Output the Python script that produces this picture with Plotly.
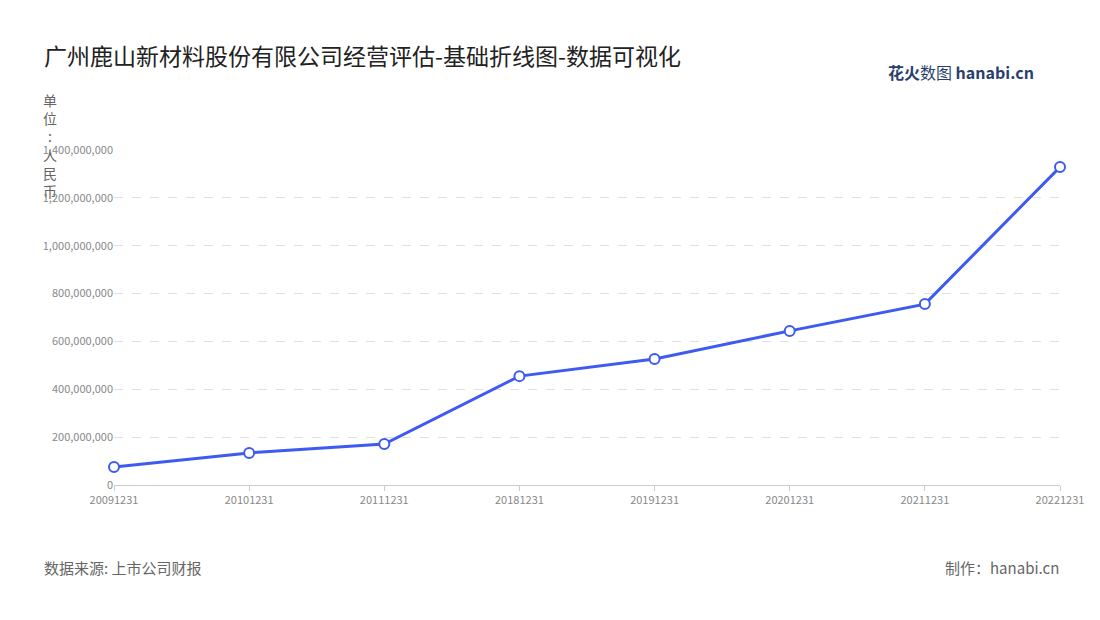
import plotly.graph_objects as go

categories = ["20091231","20101231","20111231","20181231","20191231","20201231","20211231","20221231"]
values = [75000000,134000000,171000000,455000000,527000000,644000000,756000000,1329000000]
y_ticks = [0,200000000,400000000,600000000,800000000,1000000000,1200000000,1400000000]
y_tick_labels = ["0","200,000,000","400,000,000","600,000,000","800,000,000","1,000,000,000","1,200,000,000","1,400,000,000"]

font = "Noto Sans CJK SC"
W, H = 1100, 620
l, r, t, b = 106, 48, 142, 143
fig = go.Figure(go.Scatter(
    x=categories, y=values, mode="lines+markers",
    line=dict(color="#3d5af1", width=3),
    marker=dict(size=10, color="white", line=dict(color="#3d5af1", width=2)),
    cliponaxis=False,
))
anns = [
    dict(text="广州鹿山新材料股份有限公司经营评估-基础折线图-数据可视化", x=34, y=47,
         font=dict(size=23, color="#222"), xanchor="left", yanchor="middle"),
    dict(text="单<br>位<br>:<br>人<br>民<br>币", x=42, y=80, xanchor="center", yanchor="top",
         font=dict(size=14, color="#666")),
    dict(text="数据来源: 上市公司财报", x=34, y=559, xanchor="left", yanchor="middle",
         font=dict(size=15, color="#666")),
    dict(text="制作：hanabi.cn", x=1053, y=559, xanchor="right", yanchor="middle",
         font=dict(size=15, color="#666")),
    dict(text="<b>花火</b>数图 <b>hanabi.cn</b>", x=1028, y=64, xanchor="right", yanchor="middle",
         font=dict(size=16, color="#2a3f6f")),
]
pw, ph = W - l - r, H - t - b
for a in anns:
    a.update(xref="paper", yref="paper", showarrow=False,
             x=(a["x"] - l) / pw, y=(H - b - a["y"]) / ph)
fig.update_layout(
    width=W, height=H, paper_bgcolor="white", plot_bgcolor="white",
    margin=dict(l=l, r=r, t=t, b=b),
    font=dict(family=font, color="#888", size=11),
    showlegend=False,
    xaxis=dict(type="category", range=[0, 7], showgrid=False, showline=True, linecolor="#ccc",
               ticks="outside", tickcolor="#ccc", ticklen=5, tickfont=dict(size=11, color="#888")),
    yaxis=dict(range=[0, 1400000000], tickvals=y_ticks, ticktext=y_tick_labels,
               showgrid=True, gridcolor="#e0e0e0", griddash="dash", zeroline=False,
               showline=False, tickfont=dict(size=11, color="#888")),
    annotations=anns,
)
fig.write_html("out.html")
